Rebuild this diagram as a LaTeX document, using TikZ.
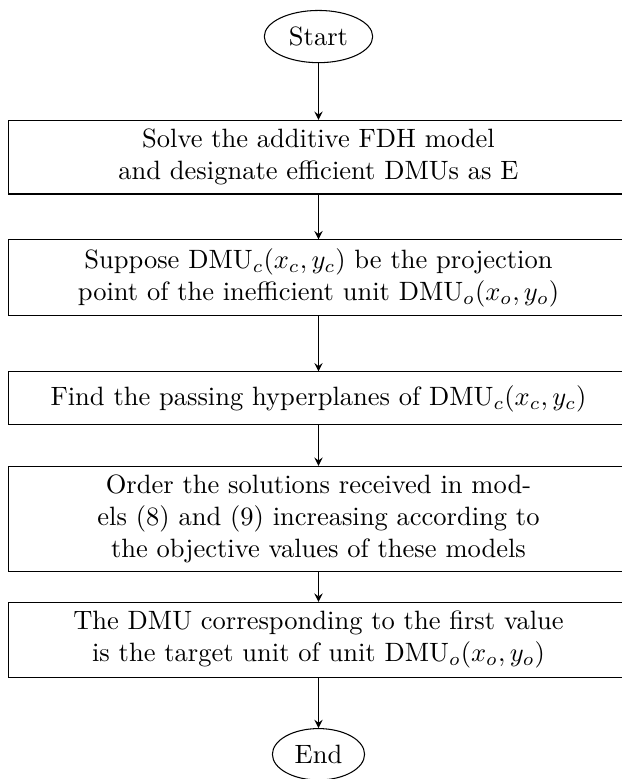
\documentclass[tikz,border=0pt]{standalone}
\usetikzlibrary{shapes.geometric}
\begin{document}
\begin{tikzpicture}[
  procbox/.style={draw, rectangle, text width=8cm, align=center, minimum height=2em},
  termnode/.style={draw, ellipse},
  flow/.style={->, >=stealth}
]
\useasboundingbox (-120.2pt,13.8pt) rectangle (114.5pt,-280.2pt);
\node[termnode] (start) at (0,0) {Start};
\node[procbox] (s1) at (0,-1.6cm) {Solve the additive FDH model\\and designate efficient DMUs as E};
\node[procbox] (s2) at (0,-3.2cm) {Suppose DMU$_c(x_c,y_c)$ be the projection point of the inefficient unit DMU$_o(x_o,y_o)$};
\node[procbox] (s3) at (0,-4.8cm) {Find the passing hyperplanes of DMU$_c(x_c,y_c)$};
\node[procbox] (s4) at (0,-6.4cm) {Order the solutions received in models (8) and (9) increasing according to the objective values of these models};
\node[procbox] (s5) at (0,-8cm) {The DMU corresponding to the first value is the target unit of unit DMU$_o(x_o,y_o)$};
\node[termnode] (end) at (0,-9.52cm) {End};
\draw[flow] (start) -- (s1);
\draw[flow] (s1) -- (s2);
\draw[flow] (s2) -- (s3);
\draw[flow] (s3) -- (s4);
\draw[flow] (s4) -- (s5);
\draw[flow] (s5) -- (end);
\end{tikzpicture}
\end{document}
